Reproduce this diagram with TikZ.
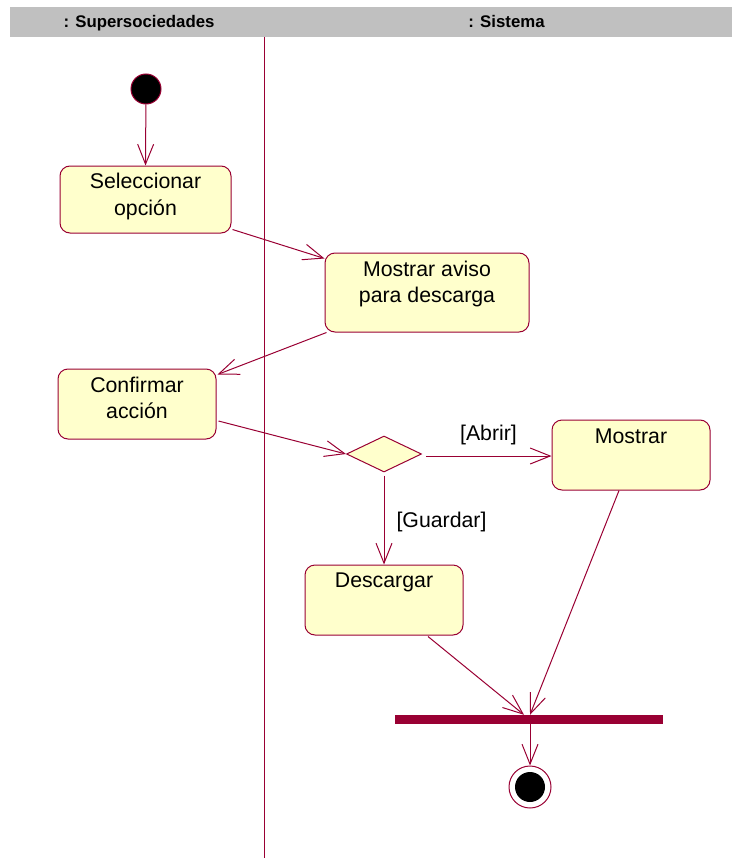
\documentclass[tikz,border=0pt]{standalone}
\usepackage{fontspec}
\setmainfont{Liberation Sans}
\usetikzlibrary{arrows.meta,shapes.geometric,calc}
\definecolor{umlline}{HTML}{990033}
\definecolor{umlfill}{HTML}{FFFFCC}
\definecolor{lanegray}{HTML}{C0C0C0}
\tikzset{
  actbox/.style={draw=umlline, fill=umlfill, line width=1pt, rounded corners=10pt, inner sep=0pt},
  txt/.style={inner sep=0pt, anchor=base, font=\fontsize{21.3}{25}\selectfont},
  hdr/.style={inner sep=0pt, anchor=base, font=\fontsize{16.8}{19}\selectfont\bfseries},
  flow/.style={draw=umlline, line width=1pt, -{Straight Barb[length=20pt,width=16pt,line width=1pt]}},
  decision/.style={diamond, aspect=2.1, draw=umlline, fill=umlfill, line width=1pt, minimum width=75pt, minimum height=36pt, inner sep=0pt},
}
\begin{document}
\begin{tikzpicture}[x=1pt,y=-1pt]
\useasboundingbox (0,0) rectangle (732,859);
% header
\fill[lanegray] (10,7) rectangle (732,37);
\node[hdr] (h1) at (139,28) {: Supersociedades};
\node[hdr] (h2) at (506.5,28) {: Sistema};
\draw[umlline, line width=0.8pt] (264,37) coordinate (d1) -- (264,858) coordinate (d2);
% initial
\node[circle, draw=umlline, fill=black, line width=1pt, minimum size=30pt, inner sep=0pt] (ini) at (146,89) {};
% activities
\node[actbox, minimum width=171pt, minimum height=67pt] (sel) at (145.5,199.5) {};
\node[txt] (sel1) at (145.5,188) {Seleccionar};
\node[txt] (sel2) at (145.5,215) {opción};
\node[actbox, minimum width=204pt, minimum height=79pt] (avi) at (427,292.5) {};
\node[txt] (avi1) at (427,276) {Mostrar aviso};
\node[txt] (avi2) at (427,302.5) {para descarga};
\node[actbox, minimum width=158pt, minimum height=70pt] (con) at (137,404) {};
\node[txt] (con1) at (137,392) {Confirmar};
\node[txt] (con2) at (137,418) {acción};
\node[decision] (dec) at (384,454) {};
\node[actbox, minimum width=158pt, minimum height=70pt] (mos) at (631,455) {};
\node[txt] (mos1) at (631,443) {Mostrar};
\node[actbox, minimum width=158pt, minimum height=70pt] (des) at (384,600) {};
\node[txt] (des1) at (384,587) {Descargar};
% sync bar
\node[fill=umlline, minimum width=268pt, minimum height=9pt, inner sep=0pt] (bar) at (529,719.5) {};
% final
\node[circle, draw=umlline, fill=white, line width=1pt, minimum size=42pt, inner sep=0pt] (fin) at (530,787) {};
\node[circle, fill=black, minimum size=30pt, inner sep=0pt] (finin) at (530,787) {};
% guards
\node[txt] (g1) at (488.5,440) {[Abrir]};
\node[txt] (g2) at (441.5,527) {[Guardar]};
% flows
\draw[flow] (ini) -- (sel.north);
\draw[flow] ($(sel.south east)+(1,-4)$) -- ($(avi.north west)+(0,6)$);
\draw[flow] ($(avi.south west)+(2,0)$) -- ($(con.north east)+(1,6)$);
\draw[flow] ($(con.east)+(2,17)$) -- (dec.west);
\draw[flow] ($(dec.east)+(4,2)$) -- ($(mos.west)+(0,1)$);
\draw[flow] ($(dec.south)+(0,3)$) -- (des.north);
\draw[flow] ($(des.south)+(44,1)$) -- ($(bar.north)+(-5,0)$);
\draw[flow] ($(mos.south)+(-12,0)$) -- ($(bar.north)+(1,0)$);
\draw[flow] ($(bar.south)+(1,0)$) -- (fin.north);
\end{tikzpicture}
\end{document}
